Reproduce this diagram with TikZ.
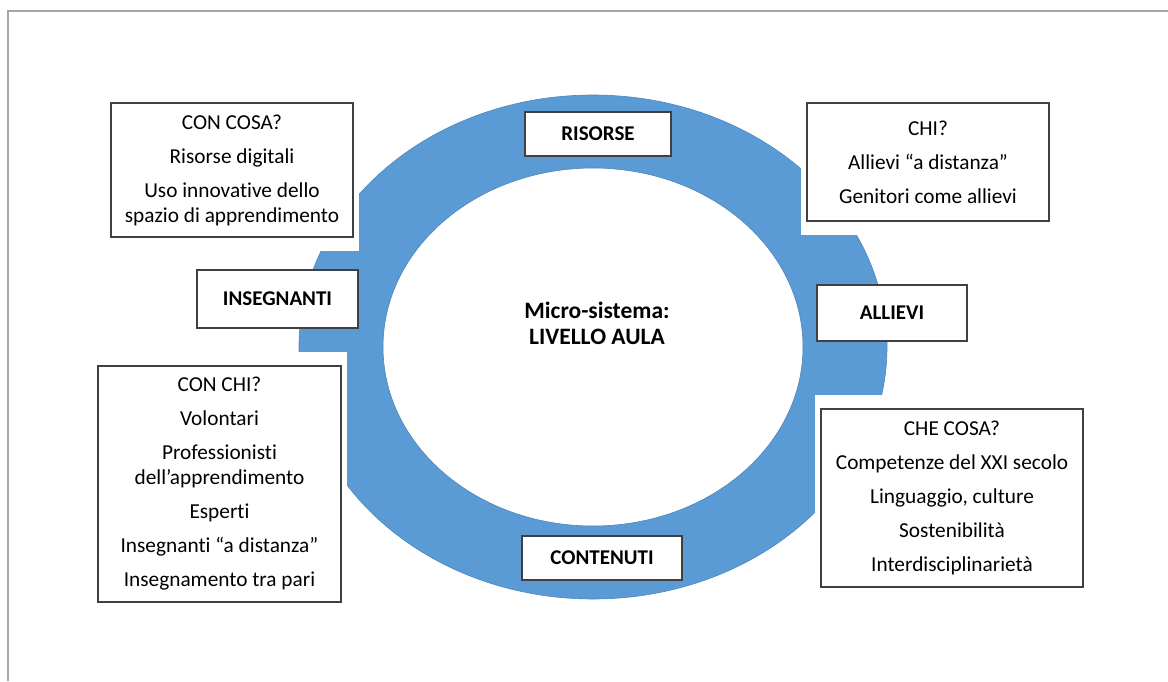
\documentclass[tikz,border=0pt]{standalone}
\usepackage{fontspec}
\setmainfont{Carlito}[Ligatures={TeX,NoCommon}]
\usetikzlibrary{calc}
\pgfdeclarelayer{background}
\pgfsetlayers{background,main}
\definecolor{ringblue}{HTML}{5B9BD5}
\definecolor{ringedge}{HTML}{4F86BA}
\definecolor{boxline}{HTML}{404040}
\definecolor{framegray}{HTML}{A6A6A6}

\begin{document}
\begin{tikzpicture}[x=1pt,y=-1pt,
        labelbox/.style={draw=boxline,line width=1.3pt,fill=white,inner sep=0pt,
            font=\fontsize{21}{25}\selectfont\bfseries},
        infobox/.style={draw=boxline,line width=1.3pt,fill=white,inner sep=0pt,
            align=center,font=\fontsize{21.3}{25}\selectfont}]
        \useasboundingbox (0,0) rectangle (1168,681);
        \draw[framegray,line width=2pt] (8,681) -- (8,11) -- (1168,11);

        \coordinate (c) at (593,347);

        \node[labelbox,minimum width=146,minimum height=44] (risorse) at (598,134) {RISORSE};
        \node[labelbox,minimum width=161,minimum height=58] (insegnanti) at (277.5,299) {INSEGNANTI};
        \node[labelbox,minimum width=150,minimum height=56] (allievi) at (892,313) {ALLIEVI};
        \node[labelbox,minimum width=160,minimum height=44] (contenuti) at (602,558) {CONTENUTI};

        \node[align=center,font=\fontsize{23.5}{26}\selectfont\bfseries] (aula) at (597,323)
            {Micro-sistema:\\LIVELLO AULA};

        \node[infobox,minimum width=242,minimum height=134] (conCosa) at (232,170)
            {CON COSA?\\[9pt] Risorse digitali\\[9pt] Uso innovative dello\\ spazio di apprendimento};
        \node[infobox,minimum width=242,minimum height=118] (chi) at (928,162)
            {CHI?\\[9pt] Allievi “a distanza”\\[9pt] Genitori come allievi};
        \node[infobox,minimum width=243,minimum height=236] (conChi) at (219.5,484)
            {CON CHI?\\[9pt] Volontari\\[9pt] Professionisti\\ dell’apprendimento\\[9pt] Esperti\\[9pt]
             Insegnanti “a distanza”\\[9pt] Insegnamento tra pari};
        \node[infobox,minimum width=262,minimum height=178] (cheCosa) at (952,498)
            {CHE COSA?\\[9pt] Competenze del XXI secolo\\[9pt] Linguaggio, culture\\[9pt]
             Sostenibilità\\[9pt] Interdisciplinarietà};

        \begin{pgfonlayer}{background}
            \fill[ringblue,even odd rule] (c) ellipse (294 and 252) (c) ellipse (210 and 179);
            \draw[ringedge,line width=0.6pt] (c) ellipse (294 and 252) (c) ellipse (210 and 179);
            \foreach \n in {conCosa,chi,conChi,cheCosa}
                \fill[white] ($(\n.south west)+(-5,13)$) rectangle ($(\n.north east)+(5,-13)$);
        \end{pgfonlayer}
    \end{tikzpicture}
\end{document}
